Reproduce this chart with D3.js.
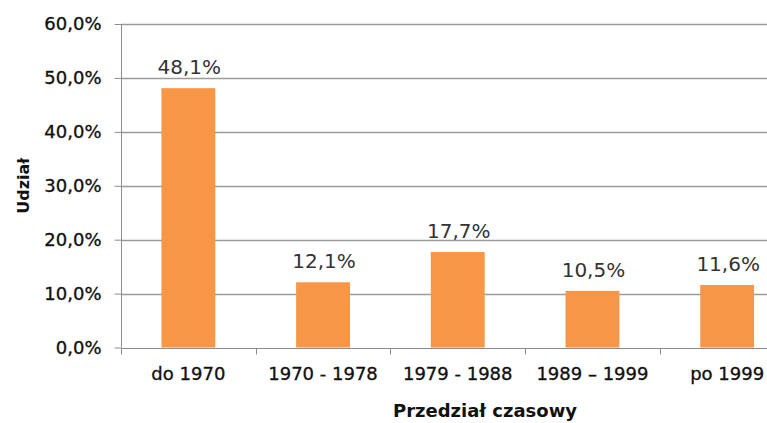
<!DOCTYPE html>
<html><head><meta charset="utf-8">
<script src="https://cdn.jsdelivr.net/npm/d3@7"></script>
<style>body{margin:0;background:#fff}svg{display:block}</style>
</head><body>
<svg id="c" width="767" height="423"></svg>
<script>
const categories = ["do 1970", "1970 - 1978", "1979 - 1988", "1989 – 1999", "po 1999"];
const values = [48.1, 12.1, 17.7, 10.5, 11.6];
const valueLabels = ["48,1%", "12,1%", "17,7%", "10,5%", "11,6%"];
const yTicks = [0, 10, 20, 30, 40, 50, 60];
const yTickLabels = ["0,0%", "10,0%", "20,0%", "30,0%", "40,0%", "50,0%", "60,0%"];

(function () {
const svg = d3.select("#c");
const pLeft = 121, pRight = 794.5, pTop = 24, pBottom = 347.5;
const x = d3.scaleBand().domain(categories).range([pLeft, pRight]).paddingInner(0.6).paddingOuter(0.3);
const y = d3.scaleLinear().domain([0, 60]).range([pBottom, pTop]);
const font = "'DejaVu Sans', sans-serif";

// gridlines
svg.append("g").selectAll("line").data(yTicks.filter(d => d > 0)).join("line")
  .attr("x1", pLeft).attr("x2", 767)
  .attr("y1", d => Math.round(y(d)) + 0.5).attr("y2", d => Math.round(y(d)) + 0.5)
  .attr("stroke", "#9a9a9a").attr("stroke-width", 1.3);

// bars
svg.append("g").selectAll("rect").data(values).join("rect")
  .attr("x", (d, i) => x(categories[i]))
  .attr("width", x.bandwidth())
  .attr("y", d => y(d))
  .attr("height", d => y(0) - y(d))
  .attr("fill", "#F79646");

// y axis
const yAxis = d3.axisLeft(y).tickValues(yTicks).tickFormat((d, i) => yTickLabels[i]).tickSize(7).tickPadding(13);
const gy = svg.append("g").attr("transform", `translate(${pLeft + 0.5},0)`).call(yAxis);
gy.select(".domain").attr("stroke", "#8c8c8c").attr("d", `M0,${pTop}V${pBottom}`);
gy.selectAll(".tick line").attr("stroke", "#8c8c8c");
gy.selectAll(".tick text").attr("font-family", font).attr("font-size", 18).attr("fill", "#111")
  .attr("stroke", "#111").attr("stroke-width", 0.35);

// x axis
const gx = svg.append("g").attr("transform", `translate(0,${Math.round(pBottom) + 0.5})`);
gx.append("line").attr("x1", pLeft).attr("x2", 767).attr("stroke", "#8c8c8c");
const step = x.step();
const bounds = d3.range(categories.length + 1).map(i => pLeft + i * step);
gx.selectAll("line.t").data(bounds).join("line").attr("class", "t")
  .attr("x1", d => Math.round(d) + 0.5).attr("x2", d => Math.round(d) + 0.5)
  .attr("y1", 0).attr("y2", 6).attr("stroke", "#8c8c8c");
gx.selectAll("text").data(categories).join("text")
  .attr("x", d => x(d) + x.bandwidth() / 2).attr("y", 31)
  .attr("text-anchor", "middle").attr("font-family", font).attr("font-size", 18).attr("fill", "#111")
  .attr("stroke", "#111").attr("stroke-width", 0.35)
  .text(d => d);

// value labels
svg.append("g").selectAll("text").data(values).join("text")
  .attr("x", (d, i) => x(categories[i]) + x.bandwidth() / 2 + 1)
  .attr("y", d => y(d) - 14)
  .attr("text-anchor", "middle").attr("font-family", font).attr("font-size", 20).attr("fill", "#333")
  .text((d, i) => valueLabels[i]);

// axis titles
svg.append("text").attr("x", 485).attr("y", 417).attr("text-anchor", "middle")
  .attr("font-family", font).attr("font-weight", "bold").attr("font-size", 18).attr("fill", "#111")
  .text("Przedział czasowy");
svg.append("text").attr("transform", `translate(29,${(pTop + pBottom) / 2}) rotate(-90)`).attr("text-anchor", "middle")
  .attr("font-family", font).attr("font-weight", "bold").attr("font-size", 16).attr("fill", "#111")
  .text("Udział");
})();
</script>
</body></html>
